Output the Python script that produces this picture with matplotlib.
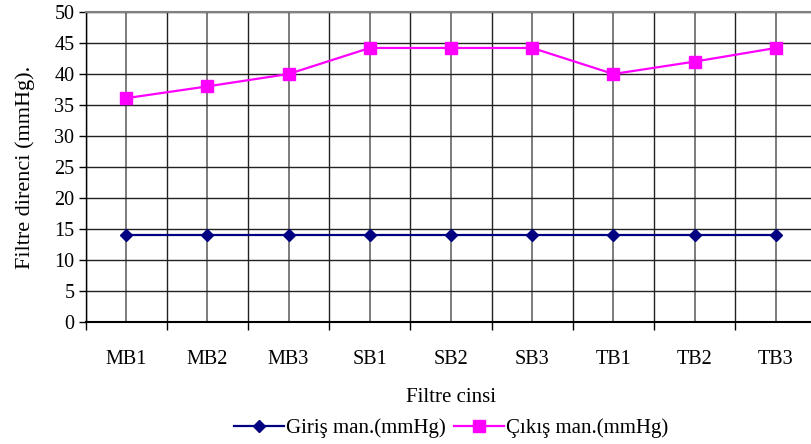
import matplotlib.pyplot as plt
import numpy as np

plt.rcParams['font.family'] = ['Liberation Serif', 'DejaVu Serif']

categories = ['MB1', 'MB2', 'MB3', 'SB1', 'SB2', 'SB3', 'TB1', 'TB2', 'TB3']
giris = [14, 14, 14, 14, 14, 14, 14, 14, 14]
cikis = [36.1, 38, 40, 44.2, 44.2, 44.2, 40, 42, 44.2]

fig = plt.figure(figsize=(8.11, 4.44), dpi=100)
# the plot area runs a little past the right edge of the picture, as in the reference
ax = fig.add_axes([85.5 / 811, 1 - 322 / 444, 731 / 811, 310 / 444])

x = np.arange(len(categories))
ax.plot(x, giris, color='#000080', lw=1.6, marker='D', ms=6.5,
        label='Giriş man.(mmHg)', zorder=3, clip_on=False)
ax.plot(x, cikis, color='#ff00ff', lw=1.6, marker='s', ms=8,
        label='Çıkış man.(mmHg)', zorder=3, clip_on=False)

ax.set_xlim(-0.5, len(categories) - 0.5)
ax.set_ylim(0, 50)
ax.set_yticks(np.arange(0, 51, 5))
ax.set_xticks(np.arange(-0.5, len(categories)), labels=[''] * (len(categories) + 1))
ax.set_xticks(x, labels=categories, minor=True)
ax.tick_params(axis='x', which='major', direction='out', length=6, width=1)
ax.tick_params(axis='x', which='minor', length=0, pad=20, labelsize=14.5)
ax.tick_params(axis='y', direction='out', length=5, width=1, labelsize=14.5, pad=3)

ax.grid(True, which='major', color='#222222', lw=1)
ax.grid(True, which='minor', axis='x', color='#666666', lw=1.2)
ax.set_axisbelow(True)

for side in ['top', 'right']:
    ax.spines[side].set_color('#808080')
    ax.spines[side].set_linewidth(1.5)
ax.spines['bottom'].set_linewidth(1.5)
ax.spines['left'].set_linewidth(1)

ax.set_ylabel('Filtre direnci (mmHg).', fontsize=16, labelpad=14)
ax.set_xlabel('Filtre cinsi', fontsize=15, labelpad=14)

ax.legend(loc='upper center', bbox_to_anchor=(0.5, -0.285), ncol=2, frameon=False,
          fontsize=15, handlelength=2.4, handletextpad=0.1, columnspacing=0.4,
          borderaxespad=0)

fig.savefig('out.png', dpi=100)
